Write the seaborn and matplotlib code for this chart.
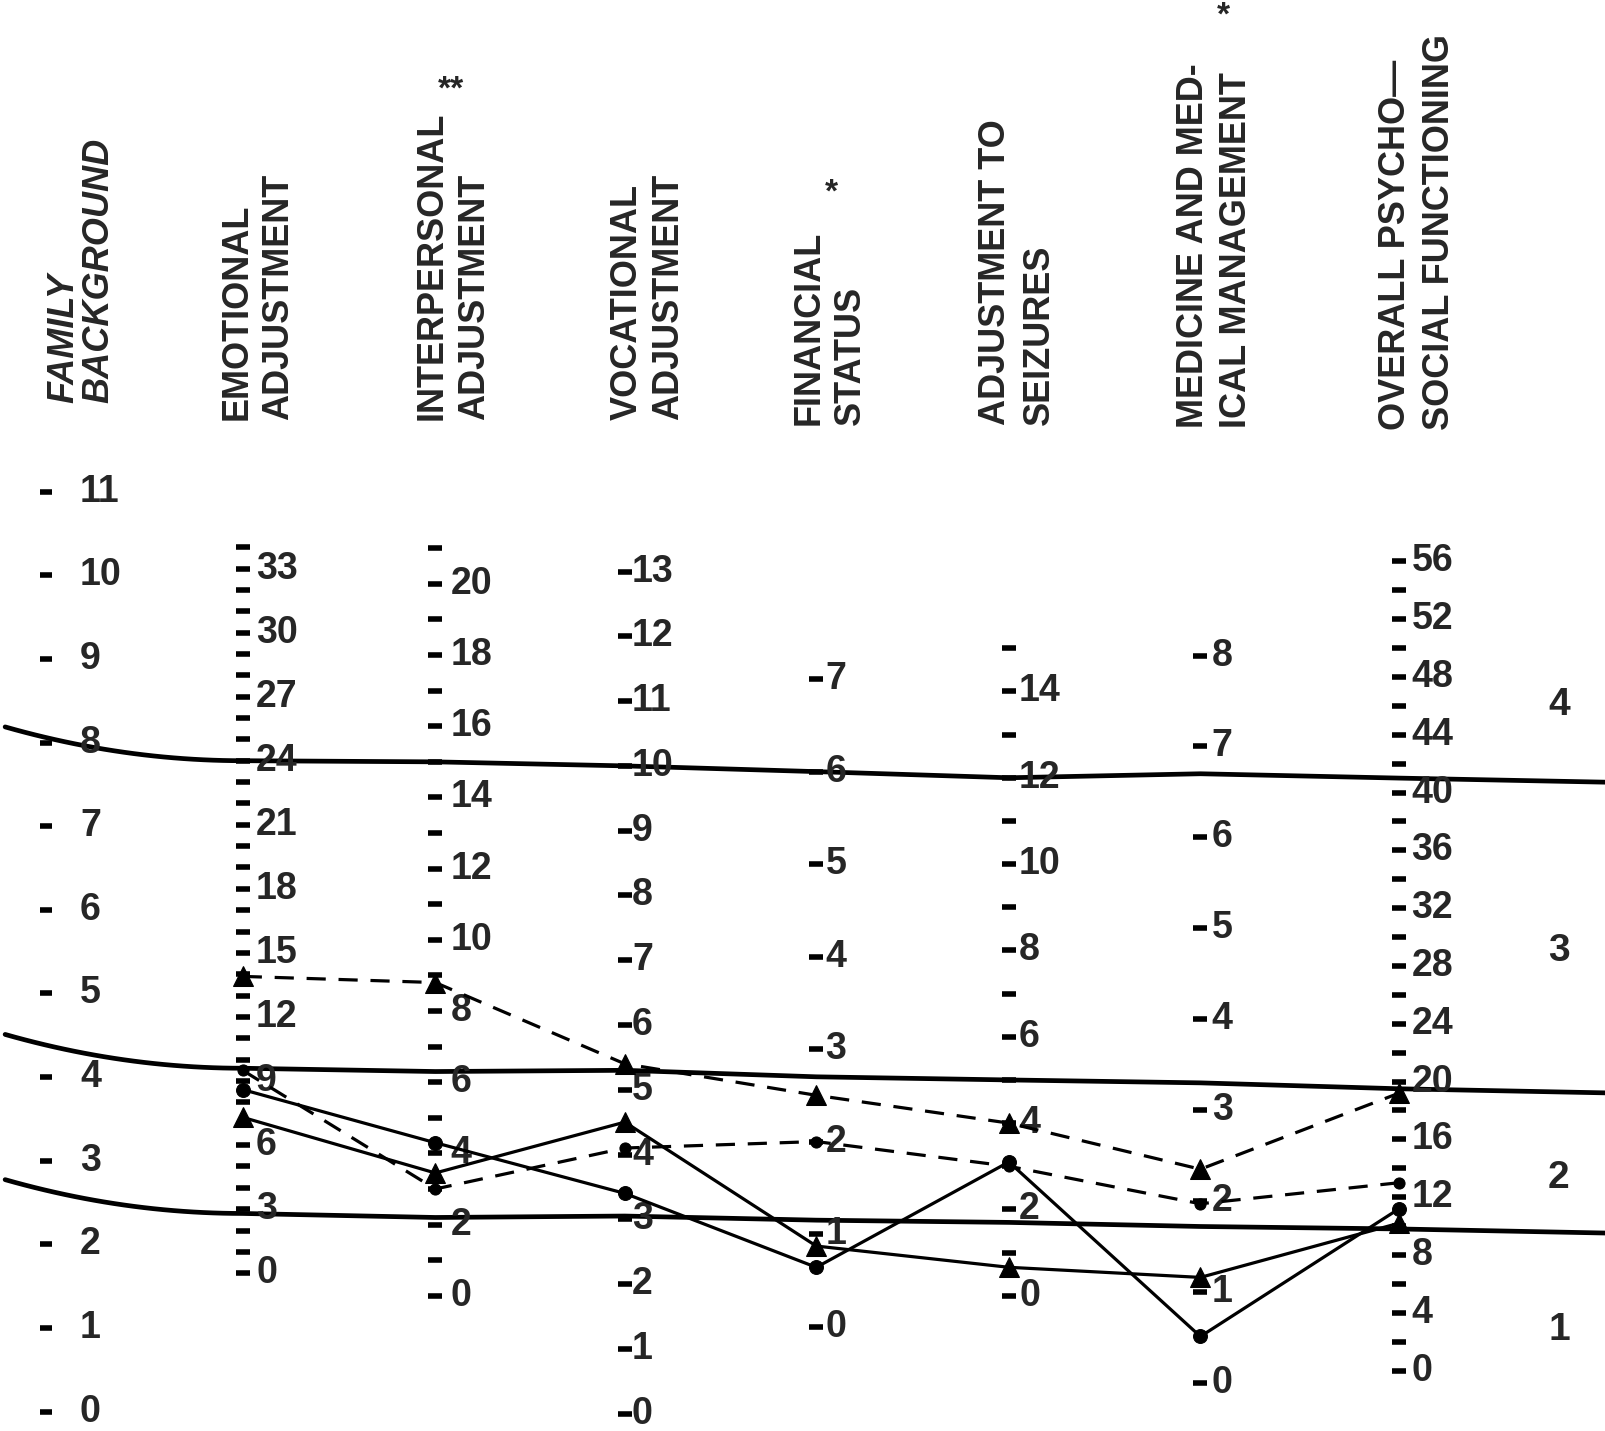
import numpy as np
import pandas as pd
import matplotlib
matplotlib.use("Agg")
import matplotlib.pyplot as plt
import seaborn as sns

# scales of the profile form (the first one carries no group data)
scale_names = ["Family Background", "Emotional Adjustment", "Interpersonal Adjustment",
               "Vocational Adjustment", "Financial Status", "Adjustment to Seizures",
               "Medicine and Medical Management", "Overall Psychosocial Functioning"]
header_line1 = ["FAMILY", "EMOTIONAL", "INTERPERSONAL", "VOCATIONAL", "FINANCIAL",
                "ADJUSTMENT TO", "MEDICINE AND MED-", "OVERALL PSYCHO\u2014"]
header_line2 = ["BACKGROUND", "ADJUSTMENT", "ADJUSTMENT", "ADJUSTMENT", "STATUS",
                "SEIZURES", "ICAL MANAGEMENT", "SOCIAL FUNCTIONING"]
significance = ["", "", "**", "", "*", "", "*", ""]

scale_max = [11, 33, 20, 13, 7, 14, 8, 56]
tick_top = [11, 34, 21, 13, 7, 15, 8, 56]
tick_step = [1, 1, 1, 1, 1, 1, 1, 2]
label_step = [1, 3, 2, 1, 1, 2, 1, 4]

# profile cut-offs on the scored scales (levels 4|3, 3|2, 2|1)
cut_4_3 = [24, 15, 10, 6, 12, 6.7, 41]
cut_3_2 = [9.6, 6.3, 5.3, 2.7, 5.0, 3.3, 19.5]
cut_2_1 = [2.8, 2.2, 3.05, 1.15, 1.7, 1.72, 9.8]
profile_levels = ["4", "3", "2", "1"]

# group mean scores, emotional .. overall
group_a = [13.9, 8.8, 5.4, 2.5, 4.0, 2.35, 19.2]
group_b = [9.5, 3.0, 4.1, 2.0, 3.0, 1.97, 13.0]
group_c = [8.6, 4.3, 3.4, 0.64, 3.1, 0.51, 11.2]
group_d = [7.3, 3.45, 4.5, 0.87, 0.66, 1.16, 10.2]

# ---- layout (reference pixel space) ----
W, H = 1568, 1397
col_x = [45, 237, 425, 610, 797, 985, 1172, 1366]
y_at_max = [480, 555, 570, 558, 663, 675, 640, 548]
y_at_zero = [1378, 1243, 1265, 1380, 1295, 1265, 1350, 1338]
label_x = [78, 250, 440, 617, 806, 995, 1183, 1378]
tick_len = [9, 10, 10, 10, 10, 10, 10, 10]
head1_x = [62, 232, 422, 612, 790, 972, 1165, 1362]
head2_x = [97, 272, 463, 653, 830, 1015, 1207, 1405]
head_bottom = [393, 410, 410, 410, 415, 415, 418, 420]
sig_pos = [None, None, (440, 88), None, (812, 188), None, (1194, 16), None]
level_y = [688, 928, 1150, 1298]


def to_y(i, v):
    return y_at_zero[i] + (y_at_max[i] - y_at_zero[i]) * v / scale_max[i]


sns.set_style("white")
plt.rcParams["font.family"] = ["Liberation Sans", "DejaVu Sans"]

fig = plt.figure(figsize=(16.06, 14.31), dpi=100)
ax = fig.add_axes([0, 0, 1, 1])

# profile level boundaries
for cuts in (cut_4_3, cut_3_2, cut_2_1):
    ys = [to_y(i + 1, c) for i, c in enumerate(cuts)]
    lx = np.linspace(5, col_x[1], 25)
    ly = ys[0] - 33 * ((col_x[1] - lx) / (col_x[1] - 5)) ** 2
    xs = list(lx) + col_x[2:] + [W]
    yy = list(ly) + ys[1:] + [ys[-1] + 4]
    ax.plot(xs, yy, color="black", lw=3.4, solid_capstyle="round", zorder=1)

# scale ticks, numbers and headers
for i in range(len(scale_names)):
    tv = np.arange(0, tick_top[i] + 1, tick_step[i])
    ax.plot([col_x[i]] * len(tv), [to_y(i, v) for v in tv], ls="none", marker="_",
            ms=tick_len[i], mew=4, color="black", zorder=2)
    for v in range(0, scale_max[i] + 1, label_step[i]):
        ax.text(label_x[i], to_y(i, v), str(v), ha="left", va="center", fontsize=27,
                weight="bold", zorder=2)
    ax.text(head1_x[i], head_bottom[i], header_line1[i], rotation=90, ha="center",
            va="bottom", fontsize=26, weight="bold",
            style="italic" if i == 0 else "normal")
    ax.text(head2_x[i], head_bottom[i], header_line2[i], rotation=90, ha="center",
            va="bottom", fontsize=26, weight="bold",
            style="italic" if i == 0 else "normal")
    if significance[i]:
        ax.text(sig_pos[i][0], sig_pos[i][1], significance[i], ha="center", va="center",
                fontsize=24, weight="bold")

for lvl, y in zip(profile_levels, level_y):
    ax.text(1522, y, lvl, ha="center", va="center", fontsize=28, weight="bold")

# group profiles
rows = []
for name, vals in [("A", group_a), ("B", group_b), ("C", group_c), ("D", group_d)]:
    for i, v in enumerate(vals, start=1):
        rows.append({"group": name, "scale": scale_names[i], "x": col_x[i], "y": to_y(i, v)})
df = pd.DataFrame(rows)

styles = {"A": dict(marker="^", markersize=14, linestyle=(0, (6, 4))),
          "B": dict(marker="o", markersize=8, linestyle=(0, (6, 4))),
          "C": dict(marker="o", markersize=10, linestyle="-"),
          "D": dict(marker="^", markersize=14, linestyle="-")}
for name, kw in styles.items():
    sns.lineplot(data=df[df["group"] == name], x="x", y="y", sort=False, estimator=None,
                 color="black", lw=2.3, markeredgecolor="black", ax=ax, zorder=3,
                 legend=False, **kw)

ax.set_xlim(0, W)
ax.set_ylim(H, 0)
ax.axis("off")
fig.savefig("out.png", dpi=100, facecolor="white")
